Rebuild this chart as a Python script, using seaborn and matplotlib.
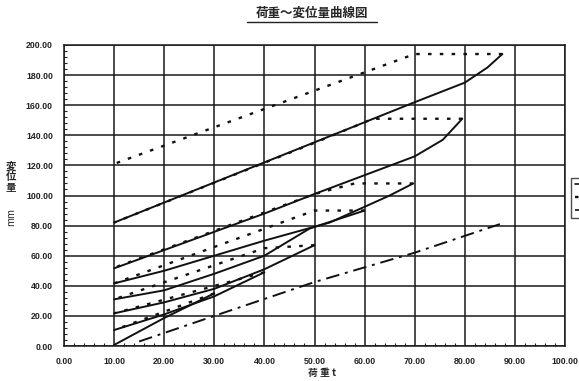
import matplotlib
matplotlib.use("Agg")
import matplotlib.pyplot as plt
from matplotlib.lines import Line2D
from matplotlib.ticker import MultipleLocator, FormatStrFormatter
import seaborn as sns
import pandas as pd

# ---- data (load t, displacement mm) ----
load_1 = [10, 20, 30]
disp_1 = [0.7, 18.6, 35]
unload_x_1 = [30, 10]
unload_y_1 = [35, 10.6]

load_2 = [10, 20, 30, 40]
disp_2 = [10.6, 21, 33, 49]
unload_x_2 = [40, 10]
unload_y_2 = [49, 21.7]

load_3 = [10, 20, 30, 40, 50]
disp_3 = [21.7, 29, 38, 51, 67]
unload_x_3 = [50, 40, 10]
unload_y_3 = [67, 65, 31]

load_4 = [10, 20, 30, 40, 49, 60]
disp_4 = [31, 37, 48, 60, 78, 90]
unload_x_4 = [60, 50, 10]
unload_y_4 = [90, 90, 41.6]

load_5 = [10, 20, 30, 40, 53, 65, 69.7]
disp_5 = [41.6, 50, 60, 70, 82, 100, 108]
unload_x_5 = [69.7, 58, 50, 10]
unload_y_5 = [108, 108, 101, 52]

load_6 = [10, 40, 50, 70, 75.6, 79.5]
disp_6 = [51.6, 88, 101, 126, 137, 151]
unload_x_6 = [79.5, 61.7, 50, 10]
unload_y_6 = [151, 151, 135, 82]

load_7 = [10, 40, 70, 80, 84.5, 87.5]
disp_7 = [82, 122, 162, 175, 185, 194]
unload_x_7 = [87.5, 70, 10]
unload_y_7 = [194, 194, 121]

ref_x = [15, 30, 50, 70, 87]
ref_y = [3, 20, 42.5, 62, 81]

x_ticks = [0, 10, 20, 30, 40, 50, 60, 70, 80, 90, 100]
y_ticks = [0, 20, 40, 60, 80, 100, 120, 140, 160, 180, 200]

title = "荷重～変位量曲線図"
xlabel = "荷 重 t"
ylabel = "変\n位\n量"
yunit = "mm"

# ---- style ----
sns.set_theme(style="white")
plt.rcParams["font.family"] = ["Liberation Sans", "Noto Sans CJK JP", "DejaVu Sans"]

fig = plt.figure(figsize=(5.79, 3.81), dpi=100)
ax = fig.add_axes([64 / 579, 1 - 346 / 381, 501 / 579, 301 / 381])

loads = [(load_1, disp_1), (load_2, disp_2), (load_3, disp_3), (load_4, disp_4),
         (load_5, disp_5), (load_6, disp_6), (load_7, disp_7)]
unloads = [(unload_x_1, unload_y_1), (unload_x_2, unload_y_2), (unload_x_3, unload_y_3),
           (unload_x_4, unload_y_4), (unload_x_5, unload_y_5), (unload_x_6, unload_y_6),
           (unload_x_7, unload_y_7)]

DOT = (0, (1.5, 3.5))
DASHDOT = (0, (7, 3, 1.5, 3))

for lx, ly in loads:
    df = pd.DataFrame({"x": lx, "y": ly})
    sns.lineplot(data=df, x="x", y="y", ax=ax, sort=False, color="#111111",
                 linewidth=1.4, estimator=None)
for ux, uy in unloads:
    df = pd.DataFrame({"x": ux, "y": uy})
    sns.lineplot(data=df, x="x", y="y", ax=ax, sort=False, color="#111111",
                 linewidth=1.7, estimator=None)
    ax.lines[-1].set_linestyle(DOT)
df = pd.DataFrame({"x": ref_x, "y": ref_y})
sns.lineplot(data=df, x="x", y="y", ax=ax, sort=False, color="#111111",
             linewidth=1.4, estimator=None)
ax.lines[-1].set_linestyle(DASHDOT)

ax.set_xlim(0, 100)
ax.set_ylim(0, 200)
ax.set_xticks(x_ticks)
ax.set_yticks(y_ticks)
ax.xaxis.set_major_formatter(FormatStrFormatter("%.2f"))
ax.yaxis.set_major_formatter(FormatStrFormatter("%.2f"))
ax.xaxis.set_minor_locator(MultipleLocator(2))
ax.yaxis.set_minor_locator(MultipleLocator(4))
ax.tick_params(axis="x", which="major", labelsize=6.3, length=0, pad=8)
ax.tick_params(axis="y", which="major", labelsize=6.3, length=0, pad=8)
ax.tick_params(axis="both", which="minor", direction="in", length=2.5, width=0.8,
               color="#222222", bottom=True, left=True)
for lab in ax.get_xticklabels() + ax.get_yticklabels():
    lab.set_fontweight("bold")
    lab.set_color("#222222")
ax.grid(True, which="major", color="#1a1a1a", linewidth=1.1)
for s in ax.spines.values():
    s.set_color("#1a1a1a")
    s.set_linewidth(1.1)
ax.set_xlabel("")
ax.set_ylabel("")

fig.text(322 / 579, 1 - 373 / 381, xlabel, ha="center", va="center", fontsize=7,
         fontweight="bold", family=["Noto Sans CJK JP", "DejaVu Sans"])
fig.text(11 / 579, 1 - 177 / 381, ylabel, ha="center", va="center", fontsize=7.5,
         fontweight="bold", family=["Noto Sans CJK JP", "DejaVu Sans"], linespacing=1.05)
fig.text(11 / 579, 1 - 217 / 381, yunit, ha="center", va="center", fontsize=7,
         rotation=90, family=["Noto Sans CJK JP", "DejaVu Sans"])
fig.text(312 / 579, 1 - 13 / 381, title, ha="center", va="center", fontsize=9,
         fontweight="bold", family=["Noto Sans CJK JP", "DejaVu Sans"])
fig.add_artist(Line2D([247 / 579, 377 / 579], [1 - 22 / 381, 1 - 22 / 381],
                      color="#222222", linewidth=1.0))

handles = [Line2D([], [], color="#111111", lw=1.2),
           Line2D([], [], color="#111111", lw=1.7, linestyle=DOT),
           Line2D([], [], color="#111111", lw=1.2, linestyle=DASHDOT)]
leg = fig.legend(handles, ["", "", ""], loc="upper left",
                 bbox_to_anchor=(567 / 579, 1 - 174 / 381),
                 frameon=True, fancybox=False, edgecolor="#222222",
                 handlelength=2.5, borderpad=0.4, labelspacing=0.6,
                 prop={"size": 6})
leg.get_frame().set_linewidth(1.0)

fig.savefig("out.png", dpi=100, facecolor="white")
